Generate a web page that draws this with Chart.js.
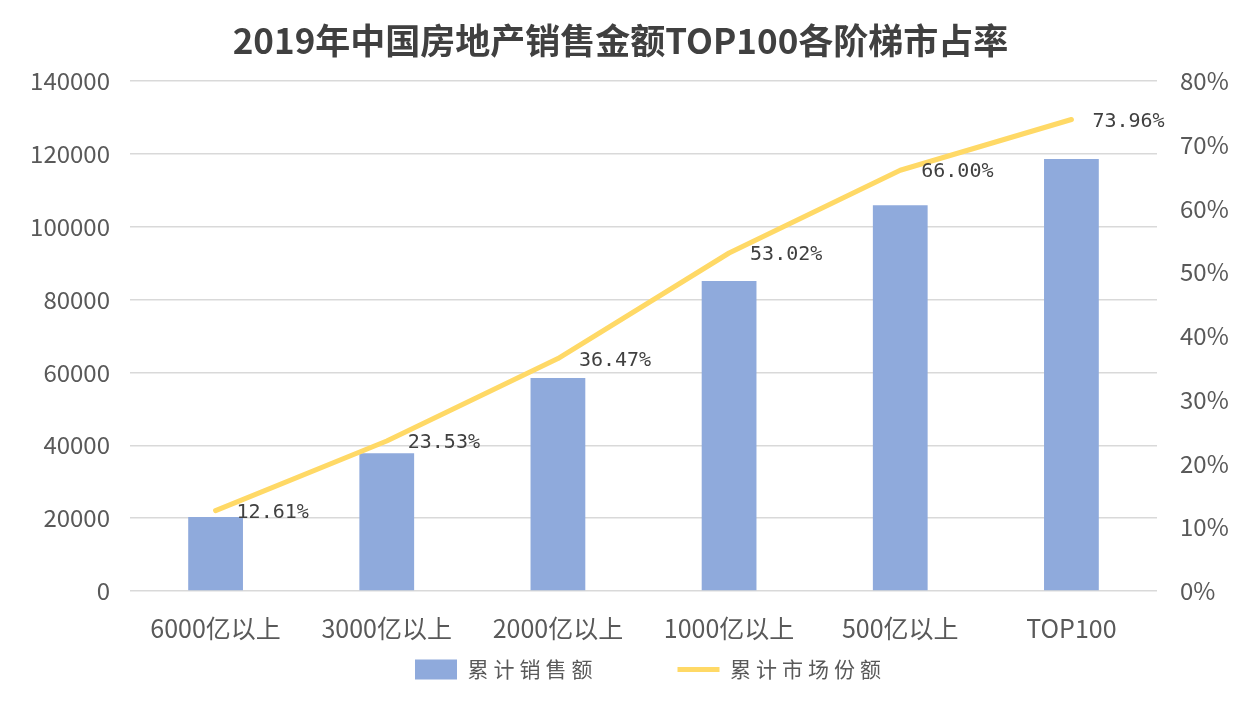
<!DOCTYPE html>
<html>
<head>
<meta charset="utf-8">
<script src="https://cdn.jsdelivr.net/npm/chart.js@4/dist/chart.umd.min.js"></script>
<style>
html,body{margin:0;padding:0;background:#fff;}
#wrap{width:1241px;height:701px;position:relative;}
</style>
</head>
<body>
<div id="wrap"><canvas id="c" width="1241" height="701"></canvas></div>
<script>
const titleText = '2019年中国房地产销售金额TOP100各阶梯市占率';
const categories = ['6000亿以上','3000亿以上','2000亿以上','1000亿以上','500亿以上','TOP100'];
const salesName = '累计销售额';
const shareName = '累计市场份额';
const salesValues = [20300, 37800, 58500, 85100, 105900, 118600];
const shareValues = [12.61, 23.53, 36.47, 53.02, 66.00, 73.96];

const FONT = '"Noto Sans CJK SC", "Noto Sans", sans-serif';

const pointLabels = {
  id: 'pointLabels',
  afterDatasetsDraw(chart) {
    const ctx = chart.ctx;
    const meta = chart.getDatasetMeta(1);
    ctx.save();
    ctx.font = '20px "DejaVu Sans Mono", "Liberation Mono", monospace';
    ctx.fillStyle = '#404040';
    ctx.textAlign = 'left';
    ctx.textBaseline = 'middle';
    meta.data.forEach((pt, i) => {
      ctx.fillText(shareValues[i].toFixed(2) + '%', pt.x + 21, pt.y + 2);
    });
    ctx.restore();
  }
};

// legend spacing: wide gap between items, spaced CJK text, compact height
const ITEM_GAP = 80, V_PAD = 10, LEGEND_H = 42, SHIFT_X = 30;
const legendTweak = {
  id: 'legendTweak',
  beforeLayout(chart) {
    const lg = chart.legend;
    if (!lg || lg._tweaked) return;
    lg._tweaked = true;
    const fit = lg.fit.bind(lg);
    const draw = lg.draw.bind(lg);
    lg.fit = function () {
      const c = this.ctx;
      const old = c.letterSpacing;
      c.letterSpacing = '5px';
      fit();
      c.letterSpacing = old;
      this.height = LEGEND_H;
    };
    lg.draw = function () {
      const c = this.ctx;
      const old = c.letterSpacing;
      c.letterSpacing = '5px';
      const dy = ITEM_GAP - V_PAD;
      this.top -= dy;
      this.left += SHIFT_X; this.right += SHIFT_X;
      draw();
      this.top += dy;
      this.left -= SHIFT_X; this.right -= SHIFT_X;
      c.letterSpacing = old;
    };
  }
};

new Chart(document.getElementById('c'), {
  type: 'bar',
  data: {
    labels: categories,
    datasets: [
      {
        type: 'bar',
        label: salesName,
        data: salesValues,
        backgroundColor: '#8FAADC',
        borderWidth: 0,
        barPercentage: 0.32,
        categoryPercentage: 1,
        yAxisID: 'y',
        order: 2,
        pointStyle: 'rect'
      },
      {
        type: 'line',
        label: shareName,
        data: shareValues,
        borderColor: '#FFD966',
        backgroundColor: '#FFD966',
        borderWidth: 5,
        borderCapStyle: 'round',
        borderJoinStyle: 'round',
        tension: 0,
        pointRadius: 0,
        pointHoverRadius: 0,
        fill: false,
        yAxisID: 'y1',
        order: 1,
        pointStyle: 'line'
      }
    ]
  },
  options: {
    responsive: false,
    animation: false,
    devicePixelRatio: 1,
    layout: { padding: { left: 0, right: 0, top: 0, bottom: 10 } },
    plugins: {
      tooltip: { enabled: false },
      title: {
        display: true,
        text: titleText,
        color: '#404040',
        font: { family: FONT, size: 35, weight: 'bold' },
        padding: { top: 20, bottom: 19 }
      },
      legend: {
        position: 'bottom',
        labels: {
          usePointStyle: true,
          pointStyleWidth: 42,
          boxHeight: 20,
          color: '#595959',
          font: { family: FONT, size: 21 },
          padding: ITEM_GAP,
          sort: (a, b) => a.datasetIndex - b.datasetIndex
        }
      }
    },
    scales: {
      x: {
        grid: { display: false, drawTicks: false },
        border: { display: false },
        ticks: { color: '#595959', font: { family: FONT, size: 25 }, padding: 22, maxRotation: 0 },
        afterFit: s => { s.height = 58; }
      },
      y: {
        position: 'left',
        min: 0, max: 140000,
        ticks: { stepSize: 20000, color: '#595959', font: { family: FONT, size: 24 }, padding: 20,
                 callback: v => String(v) },
        grid: { color: '#D9D9D9', lineWidth: 1.5, drawTicks: false },
        border: { display: false },
        afterFit: s => { s.width = 130; }
      },
      y1: {
        position: 'right',
        min: 0, max: 80,
        ticks: { stepSize: 10, color: '#595959', font: { family: FONT, size: 24 }, padding: 23,
                 callback: v => v + '%' },
        grid: { display: false, drawTicks: false },
        border: { display: false },
        afterFit: s => { s.width = 84; }
      }
    }
  },
  plugins: [pointLabels, legendTweak]
});
</script>
</body>
</html>
